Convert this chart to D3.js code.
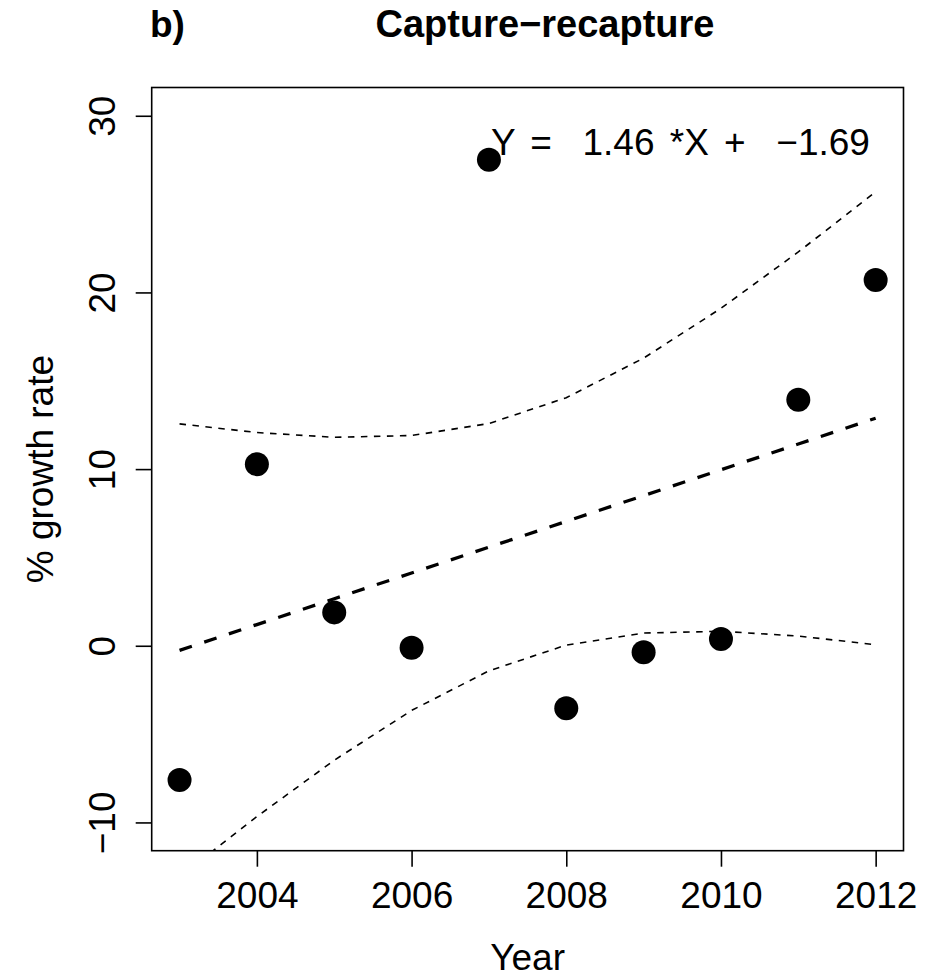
<!DOCTYPE html>
<html>
<head>
<meta charset="utf-8">
<script src="https://cdn.jsdelivr.net/npm/d3@7"></script>
<style>
    body { margin: 0; background: #fff; }
    text { font-family: "Liberation Sans", Arial, Helvetica, sans-serif; }
</style>
</head>
<body>
<div id="chart"></div>
<script>
// Data
var years = [2003, 2004, 2005, 2006, 2007, 2008, 2009, 2010, 2011, 2012];
var growth = [-7.60, 10.28, 1.89, -0.11, 27.51, -3.54, -0.37, 0.38, 13.92, 20.71];
var fitLine = [-0.26, 1.20, 2.66, 4.12, 5.58, 7.04, 8.50, 9.96, 11.42, 12.88];
var upperBand = [12.56, 12.07, 11.80, 11.90, 12.58, 14.04, 16.28, 19.10, 22.29, 25.70];
var lowerBand = [-13.08, -9.67, -6.48, -3.66, -1.42, 0.04, 0.72, 0.82, 0.55, 0.06];
var xTicks = [2004, 2006, 2008, 2010, 2012];
var yTicks = [-10, 0, 10, 20, 30];
var yLimits = [-10, 30];

var w = 938;
var h = 977;

// plot region (like par("plt") in R)
var plotLeft = 151.7, plotRight = 903.5, plotTop = 87.5, plotBottom = 850.7;

var svg = d3.select("#chart")
    .append("svg")
    .attr("width", w)
    .attr("height", h);

// R pads the axis range by 4% on each side
function pad(ext) {
    var d = (ext[1] - ext[0]) * 0.04;
    return [ext[0] - d, ext[1] + d];
}

var xScale = d3.scaleLinear().domain(pad(d3.extent(years))).range([plotLeft, plotRight]),
    yScale = d3.scaleLinear().domain(pad(yLimits)).range([plotBottom, plotTop]);

svg.append("clipPath")
    .attr("id", "plotclip")
    .append("rect")
    .attr("x", plotLeft)
    .attr("y", plotTop)
    .attr("width", plotRight - plotLeft)
    .attr("height", plotBottom - plotTop);

// x axis
var xAxis = svg.append("g")
    .attr("transform", "translate(0," + plotBottom + ")")
    .call(d3.axisBottom(xScale).tickValues(xTicks).tickFormat(d3.format("d")).tickSize(16));
xAxis.select(".domain").remove();
xAxis.selectAll("line").attr("stroke", "#000").attr("stroke-width", 1.6);
xAxis.selectAll("text")
    .attr("y", 57.6)
    .attr("dy", null)
    .attr("fill", "#000")
    .style("font-size", "37px");

// y axis, labels turned like las=0 in R
var yAxis = svg.append("g")
    .attr("transform", "translate(" + plotLeft + ",0)")
    .call(d3.axisLeft(yScale).tickValues(yTicks).tickSize(16));
yAxis.select(".domain").remove();
yAxis.selectAll("line").attr("stroke", "#000").attr("stroke-width", 1.6);
yAxis.selectAll("text")
    .attr("x", null)
    .attr("dy", null)
    .attr("text-anchor", "middle")
    .attr("transform", "translate(-36.7,0) rotate(-90)")
    .attr("fill", "#000")
    .style("font-size", "37px");

// box round the plot
svg.append("rect")
    .attr("x", plotLeft)
    .attr("y", plotTop)
    .attr("width", plotRight - plotLeft)
    .attr("height", plotBottom - plotTop)
    .style("fill", "none")
    .style("stroke", "#000")
    .style("stroke-width", 1.6);

var line = d3.line()
    .x(function (d) { return xScale(d[0]); })
    .y(function (d) { return yScale(d[1]); });

// confidence band (thin dashed)
var bands = [upperBand, lowerBand];
bands.forEach(function (band) {
    svg.append("path")
        .datum(d3.zip(years, band))
        .attr("clip-path", "url(#plotclip)")
        .attr("d", line)
        .style("fill", "none")
        .style("stroke", "#000")
        .style("stroke-width", 1.6)
        .style("stroke-dasharray", "6.5 6.5");
});

// fitted line (thick dashed)
svg.append("path")
    .datum(d3.zip(years, fitLine))
    .attr("clip-path", "url(#plotclip)")
    .attr("d", line)
    .style("fill", "none")
    .style("stroke", "#000")
    .style("stroke-width", 3.3)
    .style("stroke-dasharray", "13 13");

// points
svg.append("g")
    .selectAll("circle")
    .data(d3.zip(years, growth))
    .enter()
    .append("circle")
    .attr("cx", function (d) { return xScale(d[0]); })
    .attr("cy", function (d) { return yScale(d[1]); })
    .attr("r", 12)
    .style("fill", "#000");

// equation text
svg.append("text")
    .attr("x", 491)
    .attr("y", 155)
    .style("white-space", "pre")
    .style("word-spacing", "5px")
    .style("font-size", "37px")
    .text("Y =  1.46 *X +  \u22121.69");

// titles
svg.append("text")
    .attr("x", 150)
    .attr("y", 37)
    .style("font-size", "37px")
    .style("font-weight", "bold")
    .text("b)");

svg.append("text")
    .attr("x", 545)
    .attr("y", 37)
    .attr("text-anchor", "middle")
    .style("font-size", "38px")
    .style("font-weight", "bold")
    .text("Capture\u2212recapture");

svg.append("text")
    .attr("x", (plotLeft + plotRight) / 2)
    .attr("y", 970)
    .attr("text-anchor", "middle")
    .style("font-size", "37px")
    .text("Year");

svg.append("text")
    .attr("text-anchor", "middle")
    .attr("transform", "translate(53," + (plotTop + plotBottom) / 2 + ") rotate(-90)")
    .style("font-size", "37px")
    .text("% growth rate");
</script>
</body>
</html>
